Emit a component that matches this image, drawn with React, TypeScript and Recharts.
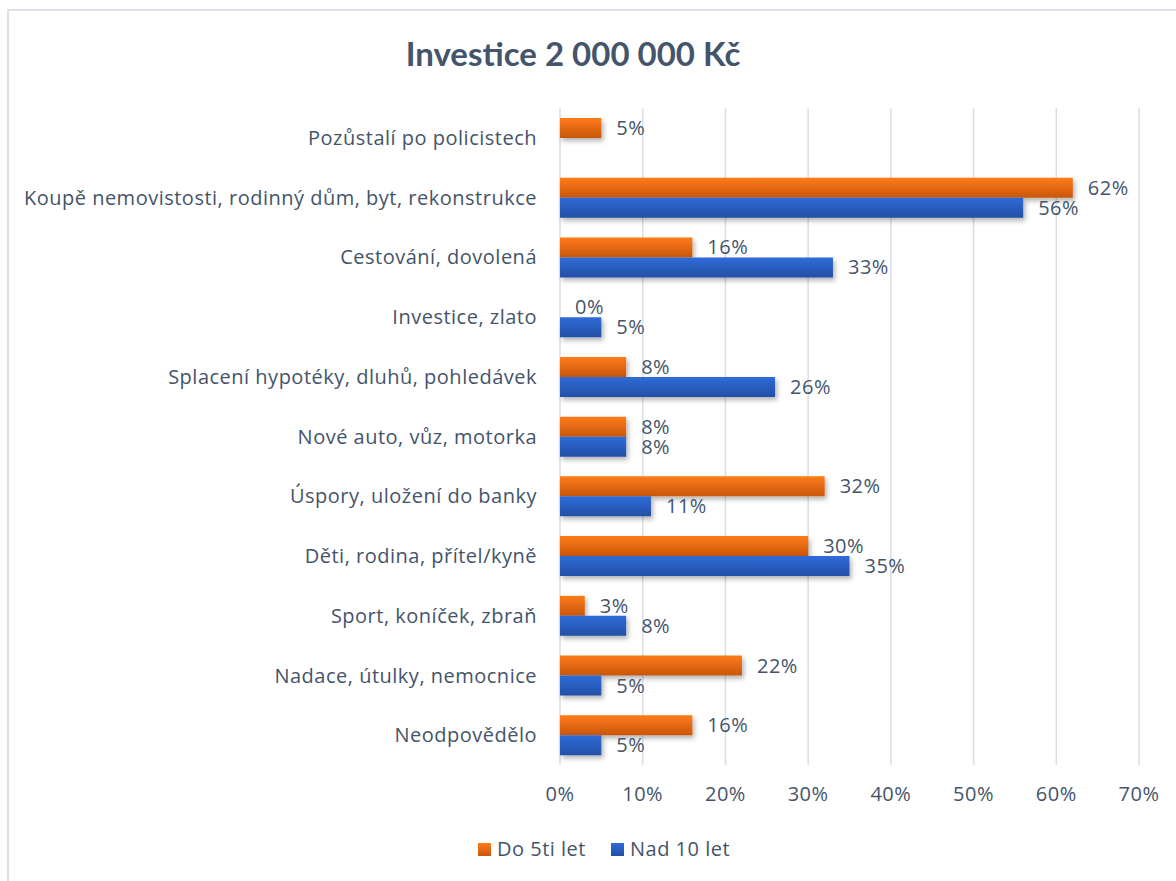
import React from 'react';
import { BarChart, Bar, XAxis, YAxis, CartesianGrid, LabelList, ReferenceDot } from 'recharts';

const categories = [
  'Pozůstalí po policistech',
  'Koupě nemovistosti, rodinný dům, byt, rekonstrukce',
  'Cestování, dovolená',
  'Investice, zlato',
  'Splacení hypotéky, dluhů, pohledávek',
  'Nové auto, vůz, motorka',
  'Úspory, uložení do banky',
  'Děti, rodina, přítel/kyně',
  'Sport, koníček, zbraň',
  'Nadace, útulky, nemocnice',
  'Neodpovědělo',
];
const do5tiLet = [5, 62, 16, 0, 8, 8, 32, 30, 3, 22, 16];
const nad10Let: (number | null)[] = [null, 56, 33, 5, 26, 8, 11, 35, 8, 5, 5];
const xTicks = [0, 10, 20, 30, 40, 50, 60, 70];
const seriesNames = ['Do 5ti let', 'Nad 10 let'];

const data = categories.map((c, i) => ({ name: c, a: do5tiLet[i], b: nad10Let[i] }));

const TEXT = '#44546A';
const FONT = '"Open Sans", sans-serif';
const TITLE_FONT = 'Lato, "Open Sans", sans-serif';
const FS = 20;
const LS = 0.5;

const renderLabel = (props: any) => {
  const { x, y, width, height, value } = props;
  if (value === null || value === undefined) return null;
  const xx = Number(x) + Number(width || 0) + 15;
  const yy = Number(y) + Number(height || 0) / 2;
  return (
    <text x={xx} y={yy} dy="0.35em" fill={TEXT} fontSize={FS} letterSpacing={LS} fontFamily={FONT} textAnchor="start">
      {`${value}%`}
    </text>
  );
};

// label for zero-length orange bars (placed in the orange bar slot: 10px above category centre)
const renderZeroLabel = (value: number) => (props: any) => {
  const vb = props.viewBox || {};
  const cx = Number(vb.x) + Number(vb.width || 0) / 2;
  const cy = Number(vb.y) + Number(vb.height || 0) / 2;
  return (
    <text x={cx + 15} y={cy - 10} dy="0.35em" fill={TEXT} fontSize={FS} letterSpacing={LS} fontFamily={FONT} textAnchor="start">
      {`${value}%`}
    </text>
  );
};

export default function App() {
  return (
    <div style={{ position: 'absolute', left: 0, top: 0, width: 1176, height: 881, overflow: 'hidden', background: '#fff', fontFamily: FONT }}>
      <div style={{ position: 'absolute', left: 7, top: 9, width: 1300, height: 1000, border: '2px solid #DCE1E8', boxSizing: 'border-box' }} />
      <div style={{ position: 'absolute', left: 0, top: 33, width: 1146, textAlign: 'center', fontSize: 33, lineHeight: '40px', fontWeight: 700, color: TEXT, fontFamily: TITLE_FONT }}>
        Investice 2 000 000 Kč
      </div>
      <div style={{ position: 'absolute', left: 0, top: 0 }}>
        <BarChart
          width={1176}
          height={881}
          data={data}
          layout="vertical"
          margin={{ top: 108, right: 37, bottom: 86, left: 0 }}
          barSize={20}
          barGap={0}
        >
          <defs>
            <linearGradient id="gOrange" x1="0" y1="0" x2="0" y2="1">
              <stop offset="0%" stopColor="#FF7B16" />
              <stop offset="100%" stopColor="#C9560E" />
            </linearGradient>
            <linearGradient id="gBlue" x1="0" y1="0" x2="0" y2="1">
              <stop offset="0%" stopColor="#2F6CD8" />
              <stop offset="100%" stopColor="#234FA6" />
            </linearGradient>
            <filter id="shadow" x="-10%" y="-30%" width="130%" height="190%">
              <feDropShadow dx="2" dy="3" stdDeviation="2.5" floodColor="#000" floodOpacity="0.3" />
            </filter>
          </defs>
          <CartesianGrid horizontal={false} vertical stroke="#D9DEE6" strokeWidth={1.5} />
          <XAxis
            type="number"
            domain={[0, 70]}
            ticks={xTicks}
            tickFormatter={(v) => `${v}%`}
            axisLine={false}
            tickLine={false}
            tickSize={0}
            tickMargin={22}
            height={30}
            tick={{ fill: TEXT, fontSize: FS, letterSpacing: LS, fontFamily: FONT }}
          />
          <YAxis
            type="category"
            dataKey="name"
            width={560}
            interval={0}
            axisLine={false}
            tickLine={false}
            tickSize={0}
            tickMargin={23}
            tick={{ fill: TEXT, fontSize: FS, letterSpacing: LS, fontFamily: FONT }}
          />
          <Bar dataKey="a" name={seriesNames[0]} fill="url(#gOrange)" filter="url(#shadow)" isAnimationActive={false}>
            <LabelList dataKey="a" content={renderLabel} />
          </Bar>
          <Bar dataKey="b" name={seriesNames[1]} fill="url(#gBlue)" filter="url(#shadow)" isAnimationActive={false}>
            <LabelList dataKey="b" content={renderLabel} />
          </Bar>
          {categories.map((c, i) =>
            do5tiLet[i] === 0 ? (
              <ReferenceDot
                key={c}
                x={do5tiLet[i]}
                y={c}
                r={1}
                fill="none"
                stroke="none"
                ifOverflow="visible"
                label={{ content: renderZeroLabel(do5tiLet[i]) }}
              />
            ) : null
          )}
        </BarChart>
      </div>
      <div style={{ position: 'absolute', left: 478, top: 835, display: 'flex', alignItems: 'center', fontSize: FS, letterSpacing: LS, lineHeight: '28px', color: TEXT }}>
        <span style={{ display: 'inline-block', width: 13, height: 13, background: 'linear-gradient(#FF7B16, #C9560E)', marginRight: 6 }} />
        <span style={{ marginRight: 25 }}>{seriesNames[0]}</span>
        <span style={{ display: 'inline-block', width: 13, height: 13, background: 'linear-gradient(#2F6CD8, #234FA6)', marginRight: 6 }} />
        <span>{seriesNames[1]}</span>
      </div>
    </div>
  );
}
